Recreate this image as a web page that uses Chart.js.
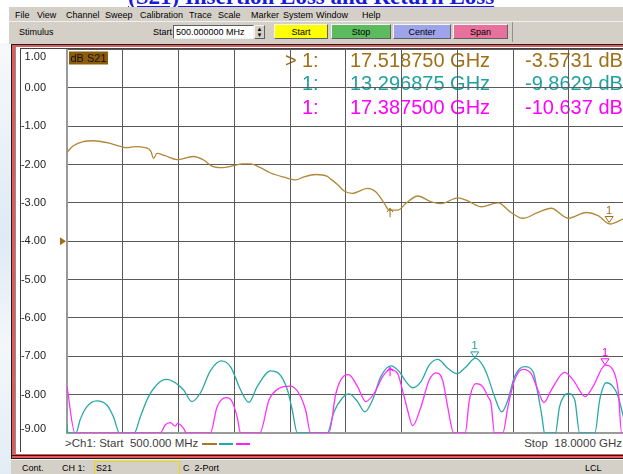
<!DOCTYPE html>
<html>
<head>
<meta charset="utf-8">
<script src="https://cdn.jsdelivr.net/npm/chart.js@4.4.0/dist/chart.umd.min.js"></script>
<style>
body { margin:0; width:623px; height:474px; overflow:hidden; position:relative; background:#fff; font-family:"Liberation Sans", Arial, sans-serif; }
.a { position:absolute; white-space:pre; }
#title { left:128px; top:-15px; font:bold 23px/23px "Liberation Serif", serif; color:#1a1ad8; text-decoration:underline; }
#leftstrip { left:0; top:43px; width:11px; height:431px; background:linear-gradient(160deg,#f6f9fc 0%,#dfeaf5 45%,#f3f7fb 70%,#e2ecf6 100%); }
.bar { background:#d4d0c8; }
.mt { font-size:9px; color:#000; top:10px; }
.btn { top:24px; height:15px; font-size:9px; line-height:15px; text-align:center; border:1px solid; border-color:#f4f4f4 #606060 #606060 #f4f4f4; box-sizing:border-box; }
.st { font-size:9px; color:#000; top:463px; }
</style>
</head>
<body>
<div class="a" id="title">(S21) Insertion Loss and Return Loss</div>
<div class="a" id="leftstrip"></div>

<!-- menu bar -->
<div class="a bar" style="left:9px;top:7px;width:614px;height:14px;"></div>
<div class="a mt" style="left:15px">File</div>
<div class="a mt" style="left:37px">View</div>
<div class="a mt" style="left:66px">Channel</div>
<div class="a mt" style="left:105px">Sweep</div>
<div class="a mt" style="left:140px">Calibration</div>
<div class="a mt" style="left:189px">Trace</div>
<div class="a mt" style="left:218px">Scale</div>
<div class="a mt" style="left:251px">Marker</div>
<div class="a mt" style="left:283px">System</div>
<div class="a mt" style="left:316px">Window</div>
<div class="a mt" style="left:362px">Help</div>

<!-- toolbar -->
<div class="a bar" style="left:9px;top:21px;width:614px;height:23px;border-top:1px solid #f0f0f0;box-sizing:border-box;"></div>
<div class="a" style="left:512px;top:22px;width:1px;height:20px;background:#909090;"></div>
<div class="a" style="left:19px;top:27px;font-size:9px;">Stimulus</div>
<div class="a" style="left:153px;top:27px;font-size:9px;">Start</div>
<div class="a" style="left:173px;top:25px;width:81px;height:14px;background:#fff;border:1px solid;border-color:#606060 #f0f0f0 #f0f0f0 #606060;box-sizing:border-box;font-size:9px;line-height:12px;padding-left:2px;">500.000000 MHz</div>
<div class="a" style="left:254px;top:25px;width:11px;height:14px;background:#d4d0c8;border:1px solid;border-color:#f4f4f4 #606060 #606060 #f4f4f4;box-sizing:border-box;font-size:6px;line-height:6px;text-align:center;">▲<br>▼</div>
<div class="a btn" style="left:274px;width:54px;background:#ffff00;">Start</div>
<div class="a btn" style="left:331px;width:60px;background:#5cbb5c;">Stop</div>
<div class="a btn" style="left:393px;width:58px;background:#9da4ea;">Center</div>
<div class="a btn" style="left:453px;width:55px;background:#e8709c;">Span</div>

<!-- channel window frame -->
<div class="a" style="left:11px;top:44px;width:614px;height:415px;background:#202020;"></div>
<div class="a" style="left:12px;top:45px;width:613px;height:413px;background:#e05a5a;"></div>
<div class="a" style="left:12px;top:455px;width:613px;height:1px;background:#3a1010;"></div>
<div class="a" style="left:15px;top:47px;width:610px;height:407px;background:#fff;border-left:1px solid #909090;box-sizing:border-box;"></div>
<div class="a" style="left:20px;top:48px;width:605px;height:404px;border-left:1px solid #404040;border-top:1px solid #404040;box-sizing:border-box;"></div>

<canvas id="vna" class="a" style="left:20px;top:48px;"></canvas>

<!-- sweep annotation under the grid -->
<div class="a" style="left:65px;top:437px;font-size:11.5px;color:#404040;">&gt;Ch1: Start  500.000 MHz</div>
<div class="a" style="left:202px;top:443px;width:15px;height:2px;background:#a87a20;"></div>
<div class="a" style="left:219px;top:443px;width:14px;height:2px;background:#20a8a8;"></div>
<div class="a" style="left:236px;top:443px;width:14px;height:2px;background:#ff20ff;"></div>
<div class="a" style="right:1px;top:437px;font-size:11.5px;color:#404040;">Stop  18.0000 GHz</div>

<!-- status bar -->
<div class="a bar" style="left:11px;top:459px;width:612px;height:15px;border-top:1px solid #f0f0f0;box-sizing:border-box;"></div>
<div class="a st" style="left:22px">Cont.</div>
<div class="a st" style="left:62px">CH 1:</div>
<div class="a" style="left:94px;top:461px;width:86px;height:14px;border:1px solid #e8dc00;box-sizing:border-box;"></div>
<div class="a st" style="left:96px">S21</div>
<div class="a st" style="left:183px">C  2-Port</div>
<div class="a st" style="left:585px">LCL</div>

<script>
// sweep / scale settings
const startGhz = 0.5;
const stopGhz = 18.0;
const numDivisions = 10;
const dbTop = 1;
const dbBottom = -9;
const refLevelDb = -4;

// trace 1 (S21, brown)
const s21Ghz = [0.50,0.70,1.01,1.33,1.75,2.24,2.38,2.64,2.96,3.13,3.22,3.32,3.58,3.95,4.47,4.79,5.05,5.37,5.73,6.00,
  6.26,6.57,6.89,7.31,7.68,7.94,8.31,8.67,8.78,8.99,9.20,9.46,9.93,10.19,10.46,10.61,10.88,11.14,11.51,11.93,
  12.24,12.77,13.08,13.50,14.03,14.44,14.81,15.28,15.70,16.23,16.80,17.17,17.54,18.00];
const s21Db = [-1.68,-1.51,-1.40,-1.38,-1.43,-1.54,-1.56,-1.53,-1.56,-1.65,-1.84,-1.71,-1.77,-1.87,-1.79,-1.88,-2.04,-2.08,-2.03,-1.98,
  -1.98,-2.08,-2.22,-2.33,-2.40,-2.32,-2.26,-2.31,-2.38,-2.52,-2.69,-2.75,-2.62,-2.71,-3.01,-3.19,-3.19,-3.01,-2.82,-2.97,
  -3.02,-2.87,-2.95,-3.10,-3.00,-3.25,-3.40,-3.25,-3.14,-3.40,-3.25,-3.33,-3.55,-3.40];

// trace 2 (cyan), as shown on the grid
const tr2Ghz = [0.50,0.53,0.78,0.91,1.12,1.43,1.75,1.96,2.15,2.61,2.80,3.06,3.43,3.64,3.90,4.16,4.42,4.69,5.00,5.34,
  5.63,5.95,6.21,6.47,6.89,7.15,7.42,7.57,7.73,8.67,8.88,9.15,9.35,9.62,9.85,10.09,10.35,10.67,10.93,11.14,
  11.35,11.61,11.87,12.14,12.45,12.74,13.03,13.32,13.56,13.71,13.92,14.15,14.34,14.55,14.86,15.13,15.28,15.41,15.49,15.83,
  15.96,16.23,16.44,16.59,17.07,17.22,17.43,17.64,17.80,18.00];
const tr2Db = [-8.77,-9,-9,-8.66,-8.32,-8.16,-8.27,-8.58,-9,-9,-8.58,-8.05,-7.66,-7.60,-7.69,-7.88,-8.18,-7.95,-7.38,-7.12,
  -7.27,-7.88,-8.20,-7.79,-7.38,-7.45,-7.88,-8.40,-9,-9,-8.45,-8.08,-7.98,-8.18,-8.45,-8.14,-7.53,-7.25,-7.40,-7.66,
  -7.82,-7.66,-7.23,-7.08,-7.31,-7.45,-7.27,-7.05,-7.25,-7.53,-8.05,-8.45,-8.14,-7.53,-7.27,-7.40,-7.97,-8.58,-9,-9,
  -8.32,-7.97,-8.14,-9,-9,-8.14,-7.69,-7.79,-8.05,-8.71];

// trace 3 (magenta), as shown on the grid
const tr3Ghz = [0.50,0.75,3.43,3.58,3.74,3.90,3.97,4.16,4.25,5.00,5.21,5.50,5.68,5.84,5.95,6.55,6.84,7.15,7.52,7.78,
  7.99,8.15,8.72,8.94,9.20,9.34,9.62,9.88,10.14,10.41,10.64,10.88,11.03,11.19,11.35,11.61,11.87,12.08,12.29,12.45,
  12.64,13.00,13.13,13.34,13.55,13.71,13.81,13.92,14.18,14.34,14.55,14.81,15.07,15.28,15.47,15.70,16.12,16.39,16.77,17.01,
  17.40,17.64,17.80,17.91,18.00];
const tr3Db = [-7.79,-9,-9,-8.79,-8.73,-8.82,-8.75,-8.88,-9,-9,-8.32,-8.08,-8.18,-8.58,-9,-9,-8.14,-7.84,-7.78,-7.97,
  -8.40,-9,-9,-7.97,-7.51,-7.48,-7.79,-8.18,-7.97,-7.53,-7.34,-7.45,-7.88,-8.40,-8.81,-8.32,-7.62,-7.43,-7.62,-8.32,
  -9,-9,-8.14,-7.71,-7.79,-8.05,-8.23,-9,-9,-8.32,-7.62,-7.34,-7.45,-7.88,-8.21,-7.88,-7.42,-7.62,-8.05,-7.79,
  -7.23,-7.36,-7.88,-9,-9];

// marker readouts (one marker per trace)
const markerGhz = [17.518750, 13.296875, 17.387500];
const markerDb = [-3.5731, -9.8629, -10.637];
const auxMarkerGhz = 10.64;

const traceColors = ['#b08838', '#2aa8a8', '#ff30ff'];
const textColors = ['#a07018', '#20a0a0', '#ff00ff'];

const traceGhz = [s21Ghz, tr2Ghz, tr3Ghz];
const traceDb = [s21Db, tr2Db, tr3Db];

function toPoints(xs, ys) {
  return xs.map((x, i) => ({ x: x, y: ys[i] }));
}

function interp(xs, ys, f) {
  for (let i = 1; i < xs.length; i++) {
    if (f <= xs[i]) {
      const t = (f - xs[i - 1]) / (xs[i] - xs[i - 1]);
      return ys[i - 1] + t * (ys[i] - ys[i - 1]);
    }
  }
  return ys[ys.length - 1];
}

const xDivisions = [];
for (let i = 0; i <= numDivisions; i++) {
  xDivisions.push(startGhz + i * (stopGhz - startGhz) / numDivisions);
}

const vnaOverlay = {
  id: 'vnaOverlay',
  beforeDraw(chart) {
    // label box and marker readouts sit under the grid
    const ctx = chart.ctx;
    const area = chart.chartArea;
    ctx.save();
    ctx.fillStyle = '#8c5c0a';
    ctx.fillRect(area.left + 2, area.top + 2, 39, 13);
    ctx.fillStyle = '#111';
    ctx.font = '11px "Liberation Sans", Arial';
    ctx.textBaseline = 'middle';
    ctx.fillText('dB S21', area.left + 3.5, area.top + 9);

    ctx.font = '20px "Liberation Sans", Arial';
    const rowY = [13, 36.5, 60];
    for (let i = 0; i < markerGhz.length; i++) {
      ctx.fillStyle = textColors[i];
      if (i === 0) ctx.fillText('>', 265, rowY[i]);
      ctx.fillText('1:', 282, rowY[i]);
      ctx.fillText(markerGhz[i].toFixed(6) + ' GHz', 330, rowY[i]);
      ctx.fillText(markerDb[i].toPrecision(5) + ' dB', 505, rowY[i]);
    }
    ctx.restore();
  },
  afterDatasetsDraw(chart) {
    const ctx = chart.ctx;
    const xs = chart.scales.x;
    const ys = chart.scales.y;
    ctx.save();
    ctx.lineWidth = 1;
    ctx.font = '11px "Liberation Sans", Arial';
    ctx.textAlign = 'center';
    ctx.textBaseline = 'bottom';
    for (let i = 0; i < markerGhz.length; i++) {
      const px = xs.getPixelForValue(markerGhz[i]);
      const py = ys.getPixelForValue(interp(traceGhz[i], traceDb[i], markerGhz[i]));
      ctx.strokeStyle = textColors[i];
      ctx.fillStyle = textColors[i];
      ctx.beginPath();
      ctx.moveTo(px - 4, py - 7);
      ctx.lineTo(px + 4, py - 7);
      ctx.lineTo(px, py - 1);
      ctx.closePath();
      ctx.stroke();
      ctx.fillText('1', px, py - 7);
    }
    // small stimulus arrows on traces 1 and 3
    [0, 2].forEach(i => {
      const px = xs.getPixelForValue(auxMarkerGhz);
      const py = ys.getPixelForValue(interp(traceGhz[i], traceDb[i], auxMarkerGhz));
      ctx.strokeStyle = textColors[i];
      ctx.beginPath();
      ctx.moveTo(px, py - 2);
      ctx.lineTo(px, py + 7);
      ctx.moveTo(px - 3, py + 2);
      ctx.lineTo(px, py - 2);
      ctx.lineTo(px + 3, py + 2);
      ctx.stroke();
    });
    ctx.restore();
  },
  afterDraw(chart) {
    const ctx = chart.ctx;
    const area = chart.chartArea;
    const ys = chart.scales.y;
    ctx.save();
    ctx.fillStyle = '#222';
    ctx.font = '11px "Liberation Sans", Arial';
    ctx.textAlign = 'right';
    ctx.textBaseline = 'middle';
    ys.ticks.forEach(t => {
      let y = ys.getPixelForValue(t.value);
      y = Math.max(area.top + 7, Math.min(area.bottom - 4, y));
      ctx.fillText(t.value.toFixed(2), 26, y);
    });
    // reference position arrow
    const ry = ys.getPixelForValue(refLevelDb);
    ctx.fillStyle = '#a07018';
    ctx.beginPath();
    ctx.moveTo(area.left - 7, ry - 4);
    ctx.lineTo(area.left - 1, ry);
    ctx.lineTo(area.left - 7, ry + 4);
    ctx.closePath();
    ctx.fill();
    ctx.restore();
  }
};

const canvas = document.getElementById('vna');
canvas.width = 605;
canvas.height = 387;
canvas.style.width = '605px';
canvas.style.height = '387px';

new Chart(canvas.getContext('2d'), {
  type: 'line',
  data: {
    datasets: [
      { label: 'S21', data: toPoints(s21Ghz, s21Db), borderColor: traceColors[0], order: 1 },
      { label: 'Tr2', data: toPoints(tr2Ghz, tr2Db), borderColor: traceColors[1], order: 3 },
      { label: 'Tr3', data: toPoints(tr3Ghz, tr3Db), borderColor: traceColors[2], order: 2 }
    ]
  },
  options: {
    responsive: false,
    animation: false,
    events: [],
    layout: { padding: { left: 47, top: 1.5, right: 0.5, bottom: 2 } },
    elements: {
      line: { borderWidth: 1.3, cubicInterpolationMode: 'monotone', fill: false },
      point: { radius: 0 }
    },
    plugins: {
      legend: { display: false },
      tooltip: { enabled: false }
    },
    scales: {
      x: {
        type: 'linear',
        min: startGhz,
        max: stopGhz,
        afterBuildTicks: scale => { scale.ticks = xDivisions.map(v => ({ value: v })); },
        ticks: { display: false },
        grid: { color: '#5a5a5a', lineWidth: 1, drawTicks: false },
        border: { color: '#9a9a9a', width: 2 }
      },
      y: {
        min: dbBottom,
        max: dbTop,
        ticks: { display: false, stepSize: 1 },
        grid: { color: '#5a5a5a', lineWidth: 1, drawTicks: false },
        border: { color: '#9a9a9a', width: 2 }
      }
    }
  },
  plugins: [vnaOverlay]
});
</script>
</body>
</html>
